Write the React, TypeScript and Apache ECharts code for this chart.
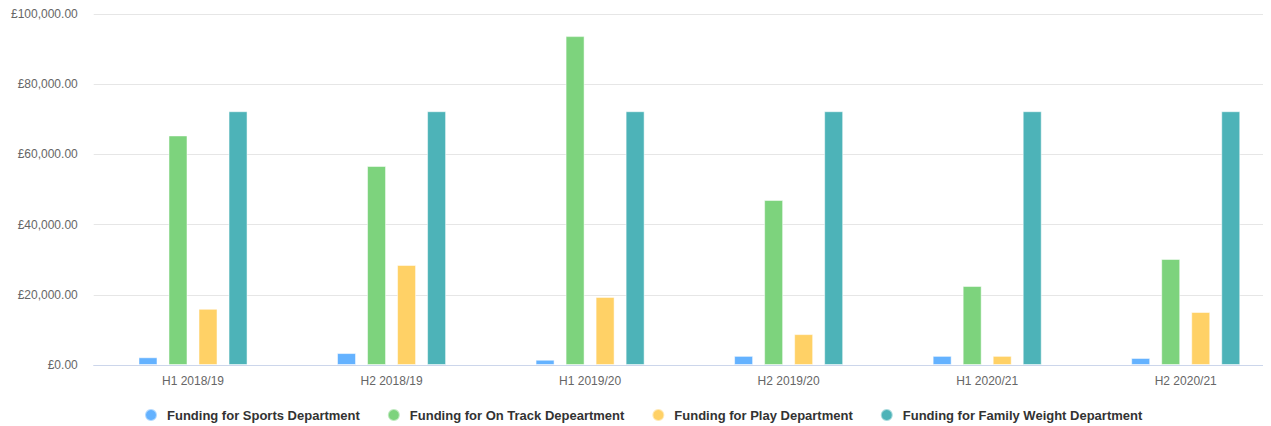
import React, { useEffect, useRef } from "react";
import * as echarts from "echarts";

const categories = ["H1 2018/19", "H2 2018/19", "H1 2019/20", "H2 2019/20", "H1 2020/21", "H2 2020/21"];
const seriesNames = [
  "Funding for Sports Department",
  "Funding for On Track Depeartment",
  "Funding for Play Department",
  "Funding for Family Weight Department",
];
const sportsValues = [2200, 3400, 1500, 2600, 2600, 2000];
const onTrackValues = [65400, 56700, 93700, 47000, 22500, 30200];
const playValues = [16000, 28500, 19400, 8800, 2600, 15100];
const familyWeightValues = [72300, 72300, 72300, 72300, 72300, 72300];
const colors = ["#64b2ff", "#7dd37d", "#ffd166", "#4db3b8"];

const fmt = (v: number) =>
  "£" + v.toLocaleString("en-GB", { minimumFractionDigits: 2, maximumFractionDigits: 2 });

export default function App() {
  const ref = useRef<HTMLDivElement>(null);
  useEffect(() => {
    if (!ref.current) return;
    const chart = echarts.init(ref.current, undefined, { renderer: "svg" });
    const data = [sportsValues, onTrackValues, playValues, familyWeightValues];
    chart.setOption({
      animation: false,
      grid: { left: 85, right: 13, top: 6, bottom: 61, containLabel: false },
      legend: {
        top: 395,
        left: 131,
        itemWidth: 22,
        itemHeight: 12,
        itemGap: 27,
        icon: "circle",
        textStyle: { fontFamily: "Liberation Sans, Arial", fontSize: 13, fontWeight: "bold", color: "#333333" },
        data: seriesNames,
      },
      xAxis: {
        type: "category",
        data: categories,
        axisLine: { lineStyle: { color: "#ccd6eb" } },
        axisTick: { show: false },
        axisLabel: { color: "#666666", fontSize: 12, fontFamily: "Liberation Sans, Arial", margin: 10 },
      },
      yAxis: {
        type: "value",
        min: 0,
        max: 100000,
        interval: 20000,
        axisLine: { show: false },
        axisTick: { show: false },
        splitLine: { lineStyle: { color: "#e6e6e6" } },
        axisLabel: {
          color: "#666666",
          fontSize: 12,
          fontFamily: "Liberation Sans, Arial",
          margin: 16,
          formatter: (v: number) => fmt(v),
        },
      },
      series: seriesNames.map((name, i) => ({
        name,
        type: "bar",
        data: data[i],
        barWidth: 19,
        barGap: "58%",
        itemStyle: { color: colors[i], borderColor: "rgba(255,255,255,0.5)", borderWidth: 1 },
      })),
    });
    return () => chart.dispose();
  }, []);
  return (
    <div style={{ width: "100%", overflow: "hidden" }}>
      <div ref={ref} style={{ width: 1290, height: 418 }} />
    </div>
  );
}
